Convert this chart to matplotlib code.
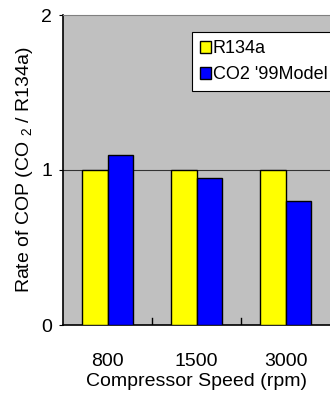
import numpy as np
import matplotlib
matplotlib.use('Agg')
import matplotlib.pyplot as plt

speeds = ['800', '1500', '3000']
r134a = [1.0, 1.0, 1.0]
co2_99 = [1.10, 0.95, 0.80]
yticks = [0, 1, 2]

plt.rcParams['font.family'] = ['Liberation Sans', 'DejaVu Sans']
plt.rcParams['mathtext.fontset'] = 'custom'
plt.rcParams['mathtext.rm'] = 'Liberation Sans'

fig = plt.figure(figsize=(3.3, 3.93), dpi=100)
ax = fig.add_axes([63/330, 1 - 325/393, 267/330, 310/393])
ax.set_facecolor('#C0C0C0')

x = np.arange(len(speeds))
w = 0.287
ax.bar(x - w/2, r134a, w, color='#FFFF00', edgecolor='black', linewidth=1, label='R134a', zorder=3)
ax.bar(x + w/2, co2_99, w, color='#0000FF', edgecolor='black', linewidth=1, label="CO2 '99Model", zorder=3)

ax.set_xlim(-0.5, 2.5)
ax.set_ylim(0, 2)
ax.set_yticks(yticks)
ax.set_yticklabels([str(v) for v in yticks], fontsize=14)
ax.axhline(1, color='#333333', linewidth=0.8, zorder=1)

# x ticks: labels at centres, tick marks between groups
ax.set_xticks(x)
ax.set_xticklabels(speeds, fontsize=14)
ax.tick_params(axis='x', length=0, pad=20)
for b in [0.5, 1.5]:
    ax.plot([b, b], [0, 0.045], color='black', linewidth=1, zorder=4)
ax.tick_params(axis='y', length=3, direction='out', pad=5)

ax.spines['left'].set_color('black')
ax.spines['bottom'].set_color('black')
ax.spines['left'].set_linewidth(1.2)
ax.spines['bottom'].set_linewidth(1.2)
ax.spines['top'].set_color('#808080')
ax.spines['right'].set_visible(False)

ax.set_xlabel('Compressor Speed (rpm)', fontsize=14, labelpad=2)
ax.set_ylabel(r'Rate of COP (CO $_{\mathregular{2}}$ / R134a)', fontsize=14, labelpad=4)

leg = ax.legend(loc='upper left', bbox_to_anchor=(0.483, 0.945), borderaxespad=0,
                fontsize=13, fancybox=False, framealpha=1, edgecolor='black',
                handlelength=0.58, handleheight=0.6, handletextpad=0.12,
                labelspacing=0.5, borderpad=0.45)
leg.get_frame().set_linewidth(0.8)

fig.savefig('out.png', dpi=100)
